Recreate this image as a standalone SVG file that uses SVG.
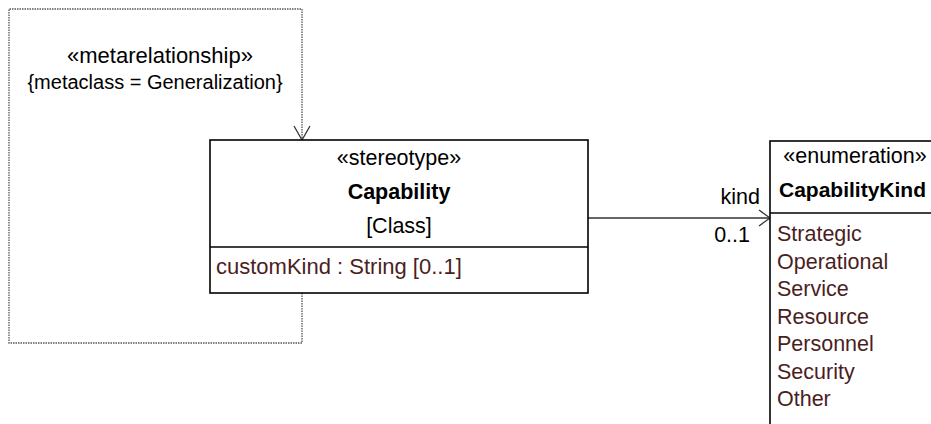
<svg xmlns="http://www.w3.org/2000/svg" width="931" height="424" viewBox="0 0 931 424">
<style>
text{font-family:"Liberation Sans",Arial,sans-serif;font-size:21.5px;fill:#000}
.b{font-weight:bold}
.m{text-anchor:middle}
.e{text-anchor:end}
.a{fill:#4b1e1e}
.box{fill:#fff;stroke:#000;stroke-width:1.6}
.ln{stroke:#000;stroke-width:1.6}
.dot{fill:none;stroke:#555;stroke-width:1.3;stroke-dasharray:1.5 1}
.con{fill:none;stroke:#333;stroke-width:1.3}
</style>
<rect width="931" height="424" fill="#fff"/>
<g id="connectors">
<path class="dot" d="M302,293 V343 H9 V9 H302 V140"/>
<path class="con" d="M294,126 L302,140 L310,126"/>
<text class="m" x="160" y="63" style="font-size:22px">«metarelationship»</text>
<text class="m" x="155" y="89" style="font-size:20px">{metaclass = Generalization}</text>
<path class="con" d="M588,218 H770"/>
<path class="con" d="M759,210 L770,218 L759,226"/>
<text class="e" x="760" y="204">kind</text>
<text class="e" x="750" y="242">0..1</text>
</g>
<g id="capability">
<rect class="box" x="210" y="140" width="378" height="153"/>
<line class="ln" x1="210" y1="247" x2="588" y2="247"/>
<text class="m" x="399" y="165">«stereotype»</text>
<text class="m b" x="399" y="199">Capability</text>
<text class="m" x="399" y="233">[Class]</text>
<text class="a" x="216" y="274" style="font-size:22px">customKind : String [0..1]</text>
</g>
<g id="capabilityKind">
<rect class="box" x="770" y="141" width="170" height="300"/>
<line class="ln" x1="770" y1="213" x2="940" y2="213"/>
<text class="m" x="855" y="163">«enumeration»</text>
<text class="b" x="779" y="197" style="font-size:21px">CapabilityKind</text>
<text class="a" x="777" y="241">Strategic</text>
<text class="a" x="777" y="269">Operational</text>
<text class="a" x="777" y="296">Service</text>
<text class="a" x="777" y="324">Resource</text>
<text class="a" x="777" y="351">Personnel</text>
<text class="a" x="777" y="379">Security</text>
<text class="a" x="777" y="406">Other</text>
</g>
</svg>
